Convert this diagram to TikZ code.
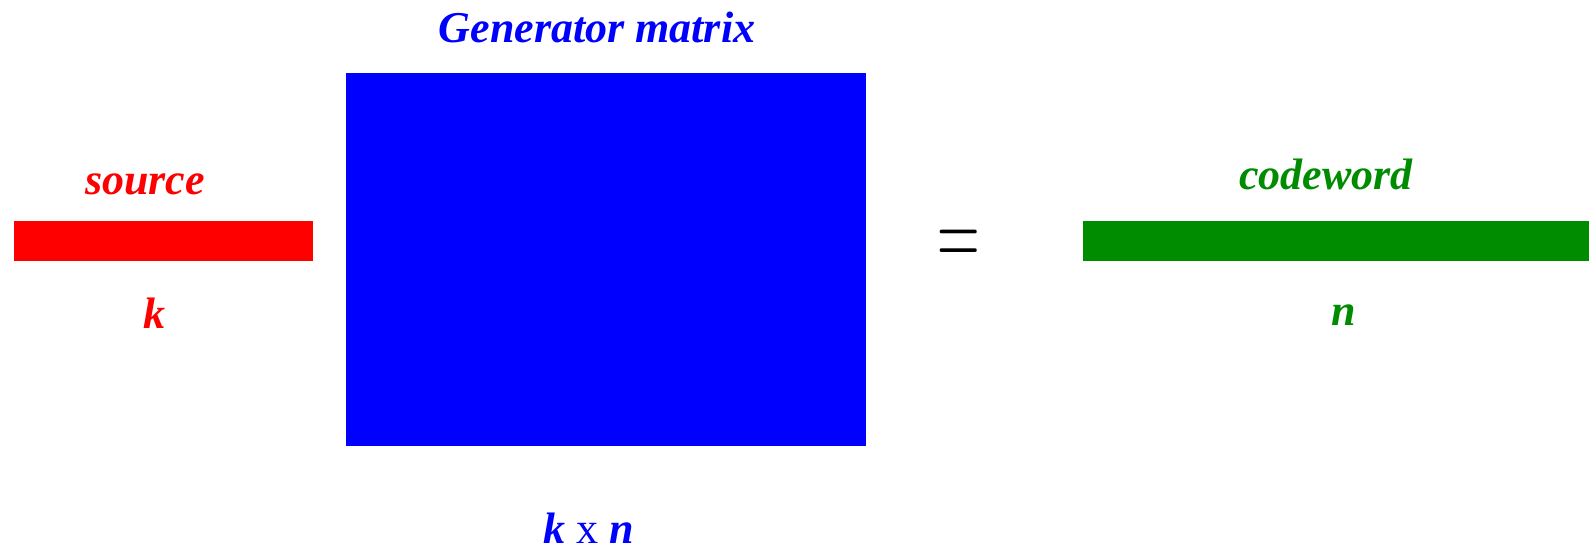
\documentclass[tikz,border=0pt]{standalone}
\usepackage{fontspec}
\setmainfont{Liberation Serif}
\definecolor{srcred}{RGB}{255,0,0}
\definecolor{genblue}{RGB}{0,0,255}
\definecolor{cwgreen}{RGB}{0,140,0}
\tikzset{
  blockbox/.style={rectangle, draw=none, inner sep=0pt, outer sep=0pt},
  lbl/.style={anchor=base, inner sep=0pt, outer sep=0pt, font=\fontsize{44}{50}\selectfont\bfseries\itshape},
}
\begin{document}
\begin{tikzpicture}[x=1pt,y=-1pt]
\useasboundingbox[fill=white] (0,0) rectangle (1589,553);
% source vector
\node[blockbox, fill=srcred, minimum width=299pt, minimum height=40pt] (src) at (163.5,241) {};
\node[lbl, text=srcred] (srclbl) at (145,195) {source};
\node[lbl, text=srcred] (srck) at (154.5,328) {k};
% generator matrix
\node[blockbox, fill=genblue, minimum width=520pt, minimum height=372.7pt] (gen) at (605.7,259.35) {};
\node[lbl, text=genblue] (genlbl) at (597,42.7) {Generator matrix};
\node[lbl, text=genblue] (gendim) at (589,543) {k {\upshape\mdseries x} n};
% equals
\node[anchor=base, inner sep=0pt, font=\fontsize{59}{64}\selectfont\rmfamily] (eq) at (959,268) {\fontspec{Latin Modern Roman}\scalebox{1}[1.78]{=}};
% codeword
\node[blockbox, fill=cwgreen, minimum width=506.3pt, minimum height=40pt] (cw) at (1335.85,241) {};
\node[lbl, text=cwgreen] (cwlbl) at (1326,190) {codeword};
\node[lbl, text=cwgreen] (cwn) at (1344,325) {n};
\end{tikzpicture}
\end{document}
